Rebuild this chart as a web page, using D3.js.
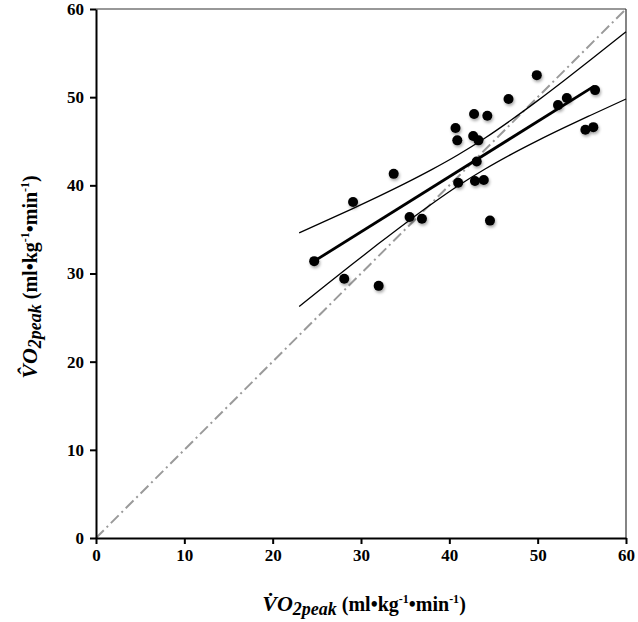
<!DOCTYPE html>
<html><head><meta charset="utf-8">
<script src="https://cdn.jsdelivr.net/npm/d3@7"></script>
<style>body{margin:0;background:#fff}</style>
</head><body><svg id="c" width="638" height="622"></svg>
<script>
// Measured VO2peak (x) vs predicted VO2peak (y)
const measured  = [24.7, 28.1, 29.1, 32.0, 33.7, 35.5, 36.9, 40.7, 40.9, 41.0, 42.8, 42.7, 43.3, 42.9, 43.1, 44.3, 43.9, 44.6, 46.7, 49.9, 52.3, 53.3, 55.4, 56.3, 56.5];
const predicted = [31.4, 29.4, 38.1, 28.6, 41.3, 36.4, 36.2, 46.5, 45.1, 40.3, 48.1, 45.6, 45.1, 40.5, 42.7, 47.9, 40.6, 36.0, 49.8, 52.5, 49.1, 49.9, 46.3, 46.6, 50.8];
// regression line end points
const regX = [24.7, 56.4];
const regY = [31.4, 51.25];
// confidence band
const bandX     = [23.0, 26.0, 29.0, 32.0, 35.0, 38.0, 41.0, 44.0, 47.0, 50.0, 53.0, 56.0, 60.0];
const bandUpper = [34.6, 35.96, 37.34, 38.75, 40.22, 41.78, 43.47, 45.34, 47.41, 49.61, 51.9, 54.25, 57.43];
const bandLower = [26.26, 28.66, 31.04, 33.39, 35.68, 37.88, 39.95, 41.82, 43.51, 45.07, 46.54, 47.95, 49.79];
// line of identity
const identX = [0, 60];
const identY = [0, 60];
const xTicks = [0, 10, 20, 30, 40, 50, 60];
const yTicks = [0, 10, 20, 30, 40, 50, 60];

const svg = d3.select("#c");
const x = d3.scaleLinear().domain([0, 60]).range([96, 626]);
const y = d3.scaleLinear().domain([0, 60]).range([538, 9]);

const defs = svg.append("defs");
const f = defs.append("filter").attr("id", "sh").attr("x", "-50%").attr("y", "-50%").attr("width", "200%").attr("height", "200%");
f.append("feDropShadow").attr("dx", 1).attr("dy", 2).attr("stdDeviation", 1.4).attr("flood-color", "#000").attr("flood-opacity", 0.35);

// frame top/right
svg.append("line").attr("x1", x(0)).attr("x2", x(60)).attr("y1", y(60)).attr("y2", y(60)).attr("stroke", "#333").attr("stroke-width", 1.2);
svg.append("line").attr("x1", x(60)).attr("x2", x(60)).attr("y1", y(60)).attr("y2", y(0)).attr("stroke", "#333").attr("stroke-width", 1.2);

// identity
svg.append("line").attr("x1", x(identX[0])).attr("y1", y(identY[0])).attr("x2", x(identX[1])).attr("y2", y(identY[1]))
  .attr("stroke", "#9a9a9a").attr("stroke-width", 2).attr("stroke-dasharray", "11,4,2,4");

// bands
const bandLine = (arr) => d3.line().x((d, i) => x(bandX[i])).y(d => y(d)).curve(d3.curveMonotoneX)(arr);
svg.append("path").attr("d", bandLine(bandUpper)).attr("fill", "none").attr("stroke", "#000").attr("stroke-width", 1.3);
svg.append("path").attr("d", bandLine(bandLower)).attr("fill", "none").attr("stroke", "#000").attr("stroke-width", 1.3);

// regression
svg.append("line").attr("x1", x(regX[0])).attr("y1", y(regY[0])).attr("x2", x(regX[1])).attr("y2", y(regY[1]))
  .attr("stroke", "#000").attr("stroke-width", 2.8);

// points
svg.append("g").selectAll("circle").data(measured).join("circle")
  .attr("cx", d => x(d)).attr("cy", (d, i) => y(predicted[i])).attr("r", 5)
  .attr("fill", "#000").attr("filter", "url(#sh)");

// axes
const font = "'Liberation Serif', 'Times New Roman', serif";
const gx = svg.append("g").attr("transform", `translate(0,${y(0)})`)
  .call(d3.axisBottom(x).tickValues(xTicks).tickFormat(d3.format("d")).tickSize(6).tickSizeOuter(0).tickPadding(5));
const gy = svg.append("g").attr("transform", `translate(${x(0)},0)`)
  .call(d3.axisLeft(y).tickValues(yTicks).tickFormat(d3.format("d")).tickSize(6).tickSizeOuter(0).tickPadding(6));
[gx, gy].forEach(g => {
  g.select(".domain").attr("stroke", "#000").attr("stroke-width", 2);
  g.selectAll(".tick line").attr("stroke", "#000").attr("stroke-width", 2);
  g.selectAll(".tick text").attr("fill", "#000").style("font-family", font).style("font-weight", "bold").style("font-size", "17px");
});

function title(g, accent) {
  const t = g.append("text").attr("text-anchor", "middle").attr("fill", "#000")
    .style("font-family", font).style("font-weight", "bold");
  t.append("tspan").style("font-style", "italic").style("font-size", "22px").text("V" + accent + "O");
  t.append("tspan").style("font-style", "italic").style("font-size", "18px").attr("dy", 4).text("2peak");
  t.append("tspan").style("font-size", "20px").attr("dy", -4).text(" (ml\u2022kg");
  t.append("tspan").style("font-size", "12px").attr("dy", -8).text("-1");
  t.append("tspan").style("font-size", "20px").attr("dy", 8).text("\u2022min");
  t.append("tspan").style("font-size", "12px").attr("dy", -8).text("-1");
  t.append("tspan").style("font-size", "20px").attr("dy", 8).text(")");
}
title(svg.append("g").attr("transform", "translate(364,611)"), "\u0307");
title(svg.append("g").attr("transform", "translate(37,277) rotate(-90)"), "\u0302");
</script></body></html>
